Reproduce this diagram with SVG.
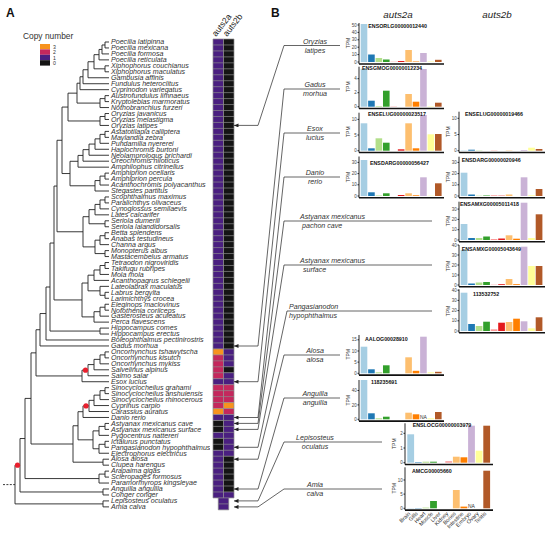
<svg xmlns="http://www.w3.org/2000/svg" width="550" height="536" viewBox="0 0 550 536">
<defs>
<style>
text{font-family:"Liberation Sans",Arial,sans-serif}
.sp{font-size:7.1px;font-style:italic;fill:#333}
.lb{font-size:7.1px;font-style:italic;fill:#333;text-anchor:middle}
.lbs{font-size:7.1px;font-style:italic;fill:#333}
.tr{fill:none;stroke:#222;stroke-width:0.9}
.P{fill:#4a1f80}.K{fill:#141414}.R{fill:#c4285d}.O{fill:#f7931e}
.grid{fill:none;stroke:#8c8c8c;stroke-width:0.7}
.ll{fill:none;stroke:#555;stroke-width:0.9}
.cn{fill:none;stroke:#222;stroke-width:0.7}
.c0{fill:#a6cee3}.c1{fill:#1f78b4}.c2{fill:#b2df8a}.c3{fill:#33a02c}.c4{fill:#fb9a99}.c5{fill:#e31a1c}.c6{fill:#fdbf6f}.c7{fill:#ff7f00}.c8{fill:#cab2d6}.c9{fill:#ffff99}.c10{fill:#b15928}
.ax{fill:none;stroke:#111;stroke-width:0.9}
.bx{fill:none;stroke:#111;stroke-width:1.6}
.tl{font-size:4.5px;fill:#444;text-anchor:end}
.tpm{font-size:5px;fill:#333;text-anchor:middle}
.id{font-size:5.3px;font-weight:bold;fill:#111}
.na{font-size:5px;fill:#333}
.xl{font-size:5.5px;fill:#333;text-anchor:end}
</style>
<marker id="ah" markerWidth="5" markerHeight="4" refX="4.5" refY="2" orient="auto" markerUnits="userSpaceOnUse"><path d="M0,0 L4.5,2 L0,4 z" fill="#222"/></marker>
</defs>
<rect width="550" height="536" fill="#fff"/>
<text x="6" y="17" font-size="12" font-weight="bold" fill="#111">A</text>
<text x="271" y="17" font-size="12" font-weight="bold" fill="#111">B</text>

<g id="legend">
<text x="23" y="38.5" font-size="8.4" fill="#333">Copy number</text>
<rect x="40" y="44" width="10" height="5.4" class="O"/>
<rect x="40" y="49.4" width="10" height="5.4" class="R"/>
<rect x="40" y="54.8" width="10" height="5.4" class="P"/>
<rect x="40" y="60.2" width="10" height="5.4" class="K"/>
<text x="53" y="48.7" font-size="5.2" fill="#333">3</text>
<text x="53" y="54.1" font-size="5.2" fill="#333">2</text>
<text x="53" y="59.5" font-size="5.2" fill="#333">1</text>
<text x="53" y="64.9" font-size="5.2" fill="#333">0</text>
</g>

<g id="tree">
<g transform="translate(0,36.04) scale(1,5.96)">
<path class="tr" vector-effect="non-scaling-stroke" d="M109 1H105V2H109M105 1.5H102V3H109M102 2.25H99V4H109M109 5H105V6H109M99 3.125H94V5.5H105M94 4.3125H88V7H109M88 5.656H83V8H109M83 6.828H80V9H109M109 10H105V11H109M105 10.5H100V12H109M80 7.914H77V11.25H100M109 13H105V14H109M105 13.5H100V15H109M77 9.582H68V14.25H100M109 16H105V17H109M105 16.5H100V18H109M100 17.25H95V19H109M95 18.125H89V20H109M89 19.06H83V21H109M83 20.03H78V22H109M109 23H105V24H109M105 23.5H100V25H109M100 24.25H95V26H109M78 21.016H70V25.125H95M68 11.916H62V23.07H70M109 27H105V28H109M105 27.5H100V29H109M100 28.25H95V30H109M109 31H105V32H109M95 29.125H89V31.5H105M109 33H105V34H109M105 33.5H100V35H109M109 36H105V37H109M100 34.25H95V36.5H105M89 30.31H83V35.375H95M62 17.49H57V32.84H83M109 38H105V39H109M105 38.5H100V40H109M100 39.25H94V41H109M109 43H105V44H109M109 42H100V43.5H105M94 40.125H88V42.75H100M109 45H105V46H109M105 45.5H100V47H109M100 46.25H94V48H109M88 41.44H82V47.125H94M57 25.17H54V44.28H82M109 49H100V50H109M54 34.73H50V49.5H100M50 42.11H46V51H109M46 46.56H40V52H109M109 53H105V54H109M105 53.5H100V55H109M100 54.25H94V56H109M94 55.125H88V57H109M88 56.06H82V58H109M40 49.28H36V57.03H82M109 59H105V60H109M105 59.5H100V61H109M100 60.25H94V62H109M94 61.125H89V63H109M89 62.06H83V64H109M109 65H105V66H109M105 65.5H99V67H109M109 68H105V69H109M105 68.5H99V70H109M99 66.25H93V69.25H99M83 63.03H78V67.75H93M109 71H103V72H109M78 65.39H73V71.5H103M36 53.16H31V68.45H73M109 73H105V74H109M105 73.5H99V75H109M31 60.8H25V74.25H99M109 76H103V77H109M25 67.53H20V76.5H103M109 78H103V79H109M20 72.01H15V78.5H103"/>
</g>
<path d="M3 484.6H15" fill="none" stroke="#222" stroke-width="0.9" stroke-dasharray="2 1.4"/>
<circle cx="17.5" cy="465.2" r="2.6" fill="#e8202e"/>
<circle cx="85.5" cy="370.2" r="2.6" fill="#e8202e"/>
<circle cx="86" cy="405.9" r="2.6" fill="#e8202e"/>
</g>

<g id="species">
<text class="sp" x="111" y="44.3"><tspan x="111">Poecilia latipinna</tspan><tspan x="111" dy="5.96">Poecilia mexicana</tspan><tspan x="111" dy="5.96">Poecilia formosa</tspan><tspan x="111" dy="5.96">Poecilia reticulata</tspan><tspan x="111" dy="5.96">Xiphophorus couchianus</tspan><tspan x="111" dy="5.96">Xiphophorus maculatus</tspan><tspan x="111" dy="5.96">Gambusia affinis</tspan><tspan x="111" dy="5.96">Fundulus heteroclitus</tspan><tspan x="111" dy="5.96">Cyprinodon variegatus</tspan><tspan x="111" dy="5.96">Austrofundulus limnaeus</tspan><tspan x="111" dy="5.96">Kryptolebias marmoratus</tspan><tspan x="111" dy="5.96">Nothobranchius furzeri</tspan><tspan x="111" dy="5.96">Oryzias javanicus</tspan><tspan x="111" dy="5.96">Oryzias melastigma</tspan><tspan x="111" dy="5.96">Oryzias latipes</tspan><tspan x="111" dy="5.96">Astatotilapia calliptera</tspan><tspan x="111" dy="5.96">Maylandia zebra</tspan><tspan x="111" dy="5.96">Pundamilia nyererei</tspan><tspan x="111" dy="5.96">Haplochromis burtoni</tspan><tspan x="111" dy="5.96">Neolamprologus brichardi</tspan><tspan x="111" dy="5.96">Oreochromis niloticus</tspan><tspan x="111" dy="5.96">Amphilophus citrinellus</tspan><tspan x="111" dy="5.96">Amphiprion ocellaris</tspan><tspan x="111" dy="5.96">Amphiprion percula</tspan><tspan x="111" dy="5.96">Acanthochromis polyacanthus</tspan><tspan x="111" dy="5.96">Stegastes partitus</tspan><tspan x="111" dy="5.96">Scophthalmus maximus</tspan><tspan x="111" dy="5.96">Paralichthys olivaceus</tspan><tspan x="111" dy="5.96">Cynoglossus semilaevis</tspan><tspan x="111" dy="5.96">Lates calcarifer</tspan><tspan x="111" dy="5.96">Seriola dumerili</tspan><tspan x="111" dy="5.96">Seriola lalandidorsalis</tspan><tspan x="111" dy="5.96">Betta splendens</tspan><tspan x="111" dy="5.96">Anabas testudineus</tspan><tspan x="111" dy="5.96">Channa argus</tspan><tspan x="111" dy="5.96">Monopterus albus</tspan><tspan x="111" dy="5.96">Mastacembelus armatus</tspan><tspan x="111" dy="5.96">Tetraodon nigroviridis</tspan><tspan x="111" dy="5.96">Takifugu rubripes</tspan><tspan x="111" dy="5.96">Mola mola</tspan><tspan x="111" dy="5.96">Acanthopagrus schlegelii</tspan><tspan x="111" dy="5.96">Lateolabrax maculatus</tspan><tspan x="111" dy="5.96">Labrus bergylta</tspan><tspan x="111" dy="5.96">Larimichthys crocea</tspan><tspan x="111" dy="5.96">Eleginops maclovinus</tspan><tspan x="111" dy="5.96">Notothenia coriiceps</tspan><tspan x="111" dy="5.96">Gasterosteus aculeatus</tspan><tspan x="111" dy="5.96">Perca flavescens</tspan><tspan x="111" dy="5.96">Hippocampus comes</tspan><tspan x="111" dy="5.96">Hippocampus erectus</tspan><tspan x="111" dy="5.96">Boleophthalmus pectinirostris</tspan><tspan x="111" dy="5.96">Gadus morhua</tspan><tspan x="111" dy="5.96">Oncorhynchus tshawytscha</tspan><tspan x="111" dy="5.96">Oncorhynchus kisutch</tspan><tspan x="111" dy="5.96">Oncorhynchus mykiss</tspan><tspan x="111" dy="5.96">Salvelinus alpinus</tspan><tspan x="111" dy="5.96">Salmo salar</tspan><tspan x="111" dy="5.96">Esox lucius</tspan><tspan x="111" dy="5.96">Sinocyclocheilus grahami</tspan><tspan x="111" dy="5.96">Sinocyclocheilus anshuiensis</tspan><tspan x="111" dy="5.96">Sinocyclocheilus rhinocerous</tspan><tspan x="111" dy="5.96">Cyprinus carpio</tspan><tspan x="111" dy="5.96">Carassius auratus</tspan><tspan x="111" dy="5.96">Danio rerio</tspan><tspan x="111" dy="5.96">Astyanax mexicanus cave</tspan><tspan x="111" dy="5.96">Astyanax mexicanus surface</tspan><tspan x="111" dy="5.96">Pygocentrus nattereri</tspan><tspan x="111" dy="5.96">Ictalurus punctatus</tspan><tspan x="111" dy="5.96">Pangasianodon hypophthalmus</tspan><tspan x="111" dy="5.96">Electrophorus electricus</tspan><tspan x="111" dy="5.96">Alosa alosa</tspan><tspan x="111" dy="5.96">Clupea harengus</tspan><tspan x="111" dy="5.96">Arapaima gigas</tspan><tspan x="111" dy="5.96">Scleropages formosus</tspan><tspan x="111" dy="5.96">Paramormyrops kingsleyae</tspan><tspan x="111" dy="5.96">Anguilla anguilla</tspan><tspan x="111" dy="5.96">Conger conger</tspan><tspan x="111" dy="5.96">Lepisosteus oculatus</tspan><tspan x="111" dy="5.96">Amia calva</tspan></text>
</g>

<g id="heatmap">
<rect x="210" y="38" width="28" height="472" fill="#fff"/>
<g transform="translate(0,33.04) scale(1,5.96)">
<rect x="213" y="1" width="10.5" height="52" class="P"/>
<rect x="213" y="53" width="10.5" height="1" class="O"/>
<rect x="213" y="54" width="10.5" height="4" class="R"/>
<rect x="213" y="58" width="10.5" height="1" class="P"/>
<rect x="213" y="59" width="10.5" height="4" class="R"/>
<rect x="213" y="63" width="10.5" height="1" class="O"/>
<rect x="213" y="64" width="10.5" height="1" class="P"/>
<rect x="213" y="65" width="10.5" height="2" class="K"/>
<rect x="213" y="67" width="10.5" height="1" class="P"/>
<rect x="213" y="68" width="10.5" height="2" class="K"/>
<rect x="213" y="70" width="10.5" height="8" class="P"/>
<rect x="223.5" y="1" width="10.5" height="52" class="K"/>
<rect x="223.5" y="53" width="10.5" height="3" class="P"/>
<rect x="223.5" y="56" width="10.5" height="1" class="K"/>
<rect x="223.5" y="57" width="10.5" height="2" class="P"/>
<rect x="223.5" y="59" width="10.5" height="3" class="R"/>
<rect x="223.5" y="62" width="10.5" height="1" class="O"/>
<rect x="223.5" y="63" width="10.5" height="1" class="R"/>
<rect x="223.5" y="64" width="10.5" height="7" class="P"/>
<rect x="223.5" y="71" width="10.5" height="6" class="K"/>
<rect x="223.5" y="77" width="10.5" height="1" class="P"/>
<rect x="218.25" y="78" width="10.5" height="2" class="P"/>
<path class="grid" vector-effect="non-scaling-stroke" d="M213 1H234M213 2H234M213 3H234M213 4H234M213 5H234M213 6H234M213 7H234M213 8H234M213 9H234M213 10H234M213 11H234M213 12H234M213 13H234M213 14H234M213 15H234M213 16H234M213 17H234M213 18H234M213 19H234M213 20H234M213 21H234M213 22H234M213 23H234M213 24H234M213 25H234M213 26H234M213 27H234M213 28H234M213 29H234M213 30H234M213 31H234M213 32H234M213 33H234M213 34H234M213 35H234M213 36H234M213 37H234M213 38H234M213 39H234M213 40H234M213 41H234M213 42H234M213 43H234M213 44H234M213 45H234M213 46H234M213 47H234M213 48H234M213 49H234M213 50H234M213 51H234M213 52H234M213 53H234M213 54H234M213 55H234M213 56H234M213 57H234M213 58H234M213 59H234M213 60H234M213 61H234M213 62H234M213 63H234M213 64H234M213 65H234M213 66H234M213 67H234M213 68H234M213 69H234M213 70H234M213 71H234M213 72H234M213 73H234M213 74H234M213 75H234M213 76H234M213 77H234M213 78H234M218.25 79H228.75M218.25 80H228.75M213 1V78M223.5 1V78M234 1V78M218.25 78V80M228.75 78V80"/>
</g>
<text transform="translate(216,37) rotate(-52)" font-size="8.6" fill="#222">auts2a</text>
<text transform="translate(227,37) rotate(-52)" font-size="8.6" fill="#222">auts2b</text>
</g>

<g id="connectors">
<path class="ll" d="M284 45.5H340M284 89H340M284 133H340M284 177H340M284 221H432M284 265H432M287 311H432M284 355H340M284 398H340M284 442H382M284 489H382"/>
<path class="cn" marker-end="url(#ah)" d="M284 45.5L258 125.4H234"/>
<path class="cn" marker-end="url(#ah)" d="M284 89L258 346H234"/>
<path class="cn" marker-end="url(#ah)" d="M284 133L258 381.7H234"/>
<path class="cn" marker-end="url(#ah)" d="M284 177L258 417.5H234"/>
<path class="cn" marker-end="url(#ah)" d="M284 221L258 423.4H234"/>
<path class="cn" marker-end="url(#ah)" d="M284 265L258 429.4H234"/>
<path class="cn" marker-end="url(#ah)" d="M287 311L258 447.3H234"/>
<path class="cn" marker-end="url(#ah)" d="M284 355L258 459.2H234"/>
<path class="cn" marker-end="url(#ah)" d="M284 398L258 489H234"/>
<path class="cn" marker-end="url(#ah)" d="M284 442L258 500.9H234"/>
<path class="cn" marker-end="url(#ah)" d="M284 489L258 506.9H234"/>
</g>

<g id="b-labels">
<text class="lb" x="315" y="43.7">Oryzias</text><text class="lb" x="315" y="52.5">latipes</text>
<text class="lb" x="315" y="87.2">Gadus</text><text class="lb" x="315" y="96">morhua</text>
<text class="lb" x="315" y="131.2">Esox</text><text class="lb" x="315" y="140">lucius</text>
<text class="lb" x="315" y="175.2">Danio</text><text class="lb" x="315" y="184">rerio</text>
<text class="lbs" x="300" y="219.2">Astyanax mexicanus</text><text class="lbs" x="302" y="228">pachon cave</text>
<text class="lbs" x="300" y="263.2">Astyanax mexicanus</text><text class="lbs" x="303" y="272">surface</text>
<text class="lbs" x="289" y="309.2">Pangasianodon</text><text class="lbs" x="289" y="318">hypophthalmus</text>
<text class="lb" x="315" y="353.2">Alosa</text><text class="lb" x="315" y="362">alosa</text>
<text class="lb" x="315" y="396.2">Anguilla</text><text class="lb" x="315" y="405">anguilla</text>
<text class="lb" x="315" y="440.2">Lepisosteus</text><text class="lb" x="315" y="449">oculatus</text>
<text class="lb" x="315" y="487.2">Amia</text><text class="lb" x="315" y="496">calva</text>
<text x="398" y="18" font-size="9.8" font-style="italic" fill="#222" text-anchor="middle">auts2a</text>
<text x="497" y="18" font-size="9.8" font-style="italic" fill="#222" text-anchor="middle">auts2b</text>
</g>

<g id="a-oryzias" transform="translate(359,62)">
<rect class="c0" x="1.7" y="-38" width="6.6" height="38"/><rect class="c1" x="9.13" y="-7.5" width="6.6" height="7.5"/><rect class="c2" x="16.56" y="-4" width="6.6" height="4"/><rect class="c3" x="23.99" y="-2.5" width="6.6" height="2.5"/><rect class="c4" x="31.42" y="-0.3" width="6.6" height="0.3"/><rect class="c5" x="38.85" y="-1" width="6.6" height="1"/><rect class="c6" x="46.28" y="-12" width="6.6" height="12"/><rect class="c7" x="53.71" y="-0.5" width="6.6" height="0.5"/><rect class="c8" x="61.14" y="-9" width="6.6" height="9"/><rect class="c9" x="68.57" y="-0.5" width="6.6" height="0.5"/><rect class="c10" x="76" y="-2.2" width="6.6" height="2.2"/>
<path class="ax" d="M0 -39V2M-1.5 0H0M-1.5 -7.4H0M-1.5 -14.8H0M-1.5 -22.2H0M-1.5 -29.6H0M-1.5 -37H0"/><path class="bx" d="M0 2H85"/>
<text class="tl" x="-2.3" y="1.6">0</text><text class="tl" x="-2.3" y="-5.8">10</text><text class="tl" x="-2.3" y="-13.2">20</text><text class="tl" x="-2.3" y="-20.6">30</text><text class="tl" x="-2.3" y="-28">40</text><text class="tl" x="-2.3" y="-35.4">50</text>
<text class="tpm" transform="translate(-8.7,-19) rotate(-90)">TPM</text>
<text class="id" x="9.3" y="-33.7">ENSORLG00000012440</text>
</g>

<g id="a-gadus" transform="translate(359,106.7)">
<rect class="c0" x="1.7" y="-38" width="6.6" height="38"/><rect class="c1" x="9.13" y="-6" width="6.6" height="6"/><rect class="c2" x="16.56" y="-0.6" width="6.6" height="0.6"/><rect class="c3" x="23.99" y="-16" width="6.6" height="16"/><rect class="c4" x="31.42" y="-0.3" width="6.6" height="0.3"/><rect class="c6" x="46.28" y="-12.7" width="6.6" height="12.7"/><rect class="c7" x="53.71" y="-5" width="6.6" height="5"/><rect class="c8" x="61.14" y="-37.7" width="6.6" height="37.7"/><rect class="c9" x="68.57" y="-0.4" width="6.6" height="0.4"/><rect class="c10" x="76" y="-4" width="6.6" height="4"/>
<path class="ax" d="M0 -40V1.8M-1.5 0H0M-1.5 -14H0M-1.5 -28H0"/><path class="bx" d="M0 1.8H85"/>
<text class="tl" x="-2.3" y="1.6">0</text><text class="tl" x="-2.3" y="-12.4">2</text><text class="tl" x="-2.3" y="-26.4">4</text>
<text class="tpm" transform="translate(-8.7,-20) rotate(-90)">TPM</text>
<text class="id" x="3" y="-36.7">ENSGMOG00000012234</text>
</g>

<g id="a-esox" transform="translate(359,150.7)">
<rect class="c0" x="1.7" y="-27.4" width="6.6" height="27.4"/><rect class="c1" x="9.13" y="-2.4" width="6.6" height="2.4"/><rect class="c2" x="16.56" y="-12.4" width="6.6" height="12.4"/><rect class="c3" x="23.99" y="-8" width="6.6" height="8"/><rect class="c5" x="38.85" y="-1.4" width="6.6" height="1.4"/><rect class="c6" x="46.28" y="-27.4" width="6.6" height="27.4"/><rect class="c7" x="53.71" y="-2.4" width="6.6" height="2.4"/><rect class="c8" x="61.14" y="-35.7" width="6.6" height="35.7"/><rect class="c9" x="68.57" y="-16.4" width="6.6" height="16.4"/><rect class="c10" x="76" y="-16.7" width="6.6" height="16.7"/>
<path class="ax" d="M0 -38V1.8M-1.5 0H0M-1.5 -15.7H0M-1.5 -31.3H0"/><path class="bx" d="M0 1.8H85"/>
<text class="tl" x="-2.3" y="1.6">0</text><text class="tl" x="-2.3" y="-14.1">5</text><text class="tl" x="-2.3" y="-29.7">10</text>
<text class="tpm" transform="translate(-8.7,-19) rotate(-90)">TPM</text>
<text class="id" x="9" y="-34.7">ENSELUG00000023517</text>
</g>

<g id="a-danio" transform="translate(359,196)">
<rect class="c0" x="1.7" y="-36" width="6.6" height="36"/><rect class="c1" x="9.13" y="-3.7" width="6.6" height="3.7"/><rect class="c2" x="16.56" y="-0.5" width="6.6" height="0.5"/><rect class="c3" x="23.99" y="-2.7" width="6.6" height="2.7"/><rect class="c5" x="38.85" y="-1" width="6.6" height="1"/><rect class="c6" x="46.28" y="-2.7" width="6.6" height="2.7"/><rect class="c7" x="53.71" y="-0.7" width="6.6" height="0.7"/><rect class="c8" x="61.14" y="-18.7" width="6.6" height="18.7"/><rect class="c9" x="68.57" y="-0.3" width="6.6" height="0.3"/><rect class="c10" x="76" y="-12.7" width="6.6" height="12.7"/>
<path class="ax" d="M0 -39.5V1.8M-1.5 0H0M-1.5 -11.2H0M-1.5 -22.4H0M-1.5 -33.6H0"/><path class="bx" d="M0 1.8H85"/>
<text class="tl" x="-2.3" y="1.6">0</text><text class="tl" x="-2.3" y="-9.6">10</text><text class="tl" x="-2.3" y="-20.8">20</text><text class="tl" x="-2.3" y="-32">30</text>
<text class="tpm" transform="translate(-8.7,-19) rotate(-90)">TPM</text>
<text class="id" x="11" y="-31.5">ENSDARG00000056427</text>
</g>

<g id="a-alosa" transform="translate(359,373.3)">
<rect class="c0" x="1.7" y="-26.6" width="6.6" height="26.6"/><rect class="c1" x="9.13" y="-4" width="6.6" height="4"/><rect class="c2" x="16.56" y="-1" width="6.6" height="1"/><rect class="c3" x="23.99" y="-8" width="6.6" height="8"/><rect class="c6" x="46.28" y="-16" width="6.6" height="16"/><rect class="c7" x="53.71" y="-2.5" width="6.6" height="2.5"/><rect class="c8" x="61.14" y="-36.6" width="6.6" height="36.6"/><rect class="c9" x="68.57" y="-1" width="6.6" height="1"/><rect class="c10" x="76" y="-1.5" width="6.6" height="1.5"/>
<path class="ax" d="M0 -38.3V1.8M-1.5 0H0M-1.5 -11.2H0M-1.5 -22.3H0M-1.5 -33.5H0"/><path class="bx" d="M0 1.8H85"/>
<text class="tl" x="-2.3" y="1.6">0</text><text class="tl" x="-2.3" y="-9.6">5</text><text class="tl" x="-2.3" y="-20.7">10</text><text class="tl" x="-2.3" y="-31.9">15</text>
<text class="tpm" transform="translate(-8.7,-19) rotate(-90)">TPM</text>
<text class="id" x="6" y="-32.3">AALOG00028910</text>
</g>

<g id="a-anguilla" transform="translate(359,419.3)">
<rect class="c0" x="1.7" y="-39.3" width="6.6" height="39.3"/><rect class="c1" x="9.13" y="-6" width="6.6" height="6"/><rect class="c2" x="16.56" y="-1" width="6.6" height="1"/><rect class="c3" x="23.99" y="-2.6" width="6.6" height="2.6"/><rect class="c6" x="46.28" y="-6.6" width="6.6" height="6.6"/><rect class="c7" x="53.71" y="-5" width="6.6" height="5"/><rect class="c9" x="68.57" y="-1" width="6.6" height="1"/><rect class="c10" x="76" y="-7.3" width="6.6" height="7.3"/>
<text class="na" x="61" y="-0.4">NA</text>
<path class="ax" d="M0 -39.3V1.8M-1.5 0H0M-1.5 -14.4H0M-1.5 -28.8H0"/><path class="bx" d="M0 1.8H85"/>
<text class="tl" x="-2.3" y="1.6">0</text><text class="tl" x="-2.3" y="-12.8">20</text><text class="tl" x="-2.3" y="-27.2">40</text>
<text class="tpm" transform="translate(-8.7,-19) rotate(-90)">TPM</text>
<text class="id" x="12" y="-35.3">118235691</text>
</g>

<g id="b-esox" transform="translate(459,150.7)">
<rect class="c0" x="1.7" y="-0.3" width="6.7" height="0.3"/><rect class="c1" x="9.2" y="-1" width="6.7" height="1"/><rect class="c2" x="16.7" y="-0.3" width="6.7" height="0.3"/><rect class="c4" x="31.7" y="-0.3" width="6.7" height="0.3"/><rect class="c6" x="46.7" y="-0.3" width="6.7" height="0.3"/><rect class="c8" x="61.7" y="-0.7" width="6.7" height="0.7"/><rect class="c9" x="69.2" y="-3" width="6.7" height="3"/><rect class="c10" x="76.7" y="-1.7" width="6.7" height="1.7"/>
<path class="ax" d="M0 -39V1.8M-1.5 0H0M-1.5 -16.2H0M-1.5 -32.4H0"/><path class="bx" d="M0 1.8H86"/>
<text class="tl" x="-2.3" y="1.6">0</text><text class="tl" x="-2.3" y="-14.6">5</text><text class="tl" x="-2.3" y="-30.8">10</text>
<text class="tpm" transform="translate(-8.7,-19) rotate(-90)">TPM</text>
<text class="id" x="6" y="-34.7">ENSELUG00000019466</text>
</g>

<g id="b-danio" transform="translate(459,196)">
<rect class="c0" x="1.7" y="-23.3" width="6.7" height="23.3"/><rect class="c1" x="9.2" y="-1.5" width="6.7" height="1.5"/><rect class="c2" x="16.7" y="-0.3" width="6.7" height="0.3"/><rect class="c3" x="24.2" y="-0.5" width="6.7" height="0.5"/><rect class="c4" x="31.7" y="-0.7" width="6.7" height="0.7"/><rect class="c5" x="39.2" y="-0.3" width="6.7" height="0.3"/><rect class="c6" x="46.7" y="-1.5" width="6.7" height="1.5"/><rect class="c8" x="61.7" y="-18.7" width="6.7" height="18.7"/><rect class="c9" x="69.2" y="-0.7" width="6.7" height="0.7"/><rect class="c10" x="76.7" y="-7" width="6.7" height="7"/>
<path class="ax" d="M0 -39.3V1.8M-1.5 0H0M-1.5 -11.2H0M-1.5 -22.4H0M-1.5 -33.6H0"/><path class="bx" d="M0 1.8H86"/>
<text class="tl" x="-2.3" y="1.6">0</text><text class="tl" x="-2.3" y="-9.6">10</text><text class="tl" x="-2.3" y="-20.8">20</text><text class="tl" x="-2.3" y="-32">30</text>
<text class="tpm" transform="translate(-8.7,-19) rotate(-90)">TPM</text>
<text class="id" x="2.7" y="-34">ENSDARG00000020946</text>
</g>

<g id="b-cave" transform="translate(459,240)">
<rect class="c0" x="1.7" y="-16" width="6.7" height="16"/><rect class="c1" x="9.2" y="-2" width="6.7" height="2"/><rect class="c2" x="16.7" y="-2" width="6.7" height="2"/><rect class="c3" x="24.2" y="-3.5" width="6.7" height="3.5"/><rect class="c4" x="31.7" y="-1" width="6.7" height="1"/><rect class="c5" x="39.2" y="-1.5" width="6.7" height="1.5"/><rect class="c6" x="46.7" y="-4.7" width="6.7" height="4.7"/><rect class="c7" x="54.2" y="-1.3" width="6.7" height="1.3"/><rect class="c8" x="61.7" y="-37.3" width="6.7" height="37.3"/><rect class="c9" x="69.2" y="-2" width="6.7" height="2"/><rect class="c10" x="76.7" y="-25.7" width="6.7" height="25.7"/>
<path class="ax" d="M0 -38.3V1.8M-1.5 0H0M-1.5 -10.3H0M-1.5 -20.6H0M-1.5 -30.9H0"/><path class="bx" d="M0 1.8H86"/>
<text class="tl" x="-2.3" y="1.6">0</text><text class="tl" x="-2.3" y="-8.7">10</text><text class="tl" x="-2.3" y="-19">20</text><text class="tl" x="-2.3" y="-29.3">30</text>
<text class="tpm" transform="translate(-8.7,-19) rotate(-90)">TPM</text>
<text class="id" x="1" y="-34.5">ENSAMXG00005011418</text>
</g>

<g id="b-surface" transform="translate(459,285)">
<rect class="c0" x="1.7" y="-35" width="6.7" height="35"/><rect class="c1" x="9.2" y="-1.5" width="6.7" height="1.5"/><rect class="c2" x="16.7" y="-2.5" width="6.7" height="2.5"/><rect class="c3" x="24.2" y="-3" width="6.7" height="3"/><rect class="c4" x="31.7" y="-0.3" width="6.7" height="0.3"/><rect class="c5" x="39.2" y="-0.8" width="6.7" height="0.8"/><rect class="c6" x="46.7" y="-6" width="6.7" height="6"/><rect class="c7" x="54.2" y="-0.8" width="6.7" height="0.8"/><rect class="c8" x="61.7" y="-38.3" width="6.7" height="38.3"/><rect class="c9" x="69.2" y="-19" width="6.7" height="19"/><rect class="c10" x="76.7" y="-19" width="6.7" height="19"/>
<path class="ax" d="M0 -40V1.8M-1.5 0H0M-1.5 -10H0M-1.5 -20H0M-1.5 -30H0M-1.5 -40H0"/><path class="bx" d="M0 1.8H86"/>
<text class="tl" x="-2.3" y="1.6">0</text><text class="tl" x="-2.3" y="-8.4">10</text><text class="tl" x="-2.3" y="-18.4">20</text><text class="tl" x="-2.3" y="-28.4">30</text><text class="tl" x="-2.3" y="-38.4">40</text>
<text class="tpm" transform="translate(-8.7,-19) rotate(-90)">TPM</text>
<text class="id" x="2.7" y="-34.5">ENSAMXG00005043649</text>
</g>

<g id="b-pangasianodon" transform="translate(459,331)">
<rect class="c0" x="1.7" y="-38.3" width="6.7" height="38.3"/><rect class="c1" x="9.2" y="-7" width="6.7" height="7"/><rect class="c2" x="16.7" y="-5" width="6.7" height="5"/><rect class="c3" x="24.2" y="-9.3" width="6.7" height="9.3"/><rect class="c4" x="31.7" y="-1.7" width="6.7" height="1.7"/><rect class="c5" x="39.2" y="-8.3" width="6.7" height="8.3"/><rect class="c6" x="46.7" y="-9" width="6.7" height="9"/><rect class="c7" x="54.2" y="-12.3" width="6.7" height="12.3"/><rect class="c8" x="61.7" y="-9.7" width="6.7" height="9.7"/><rect class="c9" x="69.2" y="-2.7" width="6.7" height="2.7"/><rect class="c10" x="76.7" y="-13.7" width="6.7" height="13.7"/>
<path class="ax" d="M0 -41.7V1.8M-1.5 0H0M-1.5 -10.2H0M-1.5 -20.4H0M-1.5 -30.6H0M-1.5 -40.8H0"/><path class="bx" d="M0 1.8H86"/>
<text class="tl" x="-2.3" y="1.6">0</text><text class="tl" x="-2.3" y="-8.6">10</text><text class="tl" x="-2.3" y="-18.8">20</text><text class="tl" x="-2.3" y="-29">30</text><text class="tl" x="-2.3" y="-39.2">40</text>
<text class="tpm" transform="translate(-8.7,-20) rotate(-90)">TPM</text>
<text class="id" x="14" y="-35.5">113532752</text>
</g>

<g id="lepisosteus" transform="translate(405,462.7)">
<rect class="c0" x="2.3" y="-28.4" width="6.8" height="28.4"/><rect class="c1" x="9.9" y="-0.5" width="6.8" height="0.5"/><rect class="c2" x="17.5" y="-1" width="6.8" height="1"/><rect class="c3" x="25.1" y="-1" width="6.8" height="1"/><rect class="c4" x="40.3" y="-1.5" width="6.8" height="1.5"/><rect class="c6" x="47.9" y="-6" width="6.8" height="6"/><rect class="c7" x="55.5" y="-5.4" width="6.8" height="5.4"/><rect class="c8" x="63.1" y="-37" width="6.8" height="37"/><rect class="c9" x="70.7" y="-12" width="6.8" height="12"/><rect class="c10" x="78.3" y="-37" width="6.8" height="37"/>
<path class="ax" d="M0 -39.4V1.8M-1.5 0H0M-1.5 -14.7H0M-1.5 -29.4H0"/><path class="bx" d="M0 1.8H88"/>
<text class="tl" x="-2.3" y="1.6">0</text><text class="tl" x="-2.3" y="-13.1">1</text><text class="tl" x="-2.3" y="-27.8">2</text>
<text class="tpm" transform="translate(-8.7,-19) rotate(-90)">TPM</text>
<text class="id" x="7.7" y="-35.7">ENSLOCG00000003979</text>
</g>

<g id="amia" transform="translate(405,508.3)">
<rect class="c0" x="2.3" y="-0.3" width="6.8" height="0.3"/><rect class="c1" x="9.9" y="-0.3" width="6.8" height="0.3"/><rect class="c2" x="17.5" y="-0.7" width="6.8" height="0.7"/><rect class="c3" x="25.1" y="-7.3" width="6.8" height="7.3"/><rect class="c6" x="47.9" y="-18.3" width="6.8" height="18.3"/><rect class="c7" x="55.5" y="-1.7" width="6.8" height="1.7"/><rect class="c10" x="78.3" y="-37.6" width="6.8" height="37.6"/>
<text class="na" x="63" y="-0.4">NA</text>
<path class="ax" d="M0 -41V1.8M-1.5 0H0M-1.5 -14.2H0M-1.5 -28.3H0"/><path class="bx" d="M0 1.8H88"/>
<text class="tl" x="-2.3" y="1.6">0</text><text class="tl" x="-2.3" y="-12.6">5</text><text class="tl" x="-2.3" y="-26.7">10</text>
<text class="tpm" transform="translate(-8.7,-20) rotate(-90)">TPM</text>
<text class="id" x="7" y="-35.3">AMCG00005660</text>
</g>

<g id="x-labels">
<text class="xl" transform="translate(410.7,514) rotate(-45)">Brain</text>
<text class="xl" transform="translate(418.3,514) rotate(-45)">Gills</text>
<text class="xl" transform="translate(425.9,514) rotate(-45)">Heart</text>
<text class="xl" transform="translate(433.5,514) rotate(-45)">Muscle</text>
<text class="xl" transform="translate(441.1,514) rotate(-45)">Liver</text>
<text class="xl" transform="translate(448.7,514) rotate(-45)">Kidney</text>
<text class="xl" transform="translate(456.3,514) rotate(-45)">Bones</text>
<text class="xl" transform="translate(463.9,514) rotate(-45)">Intestine</text>
<text class="xl" transform="translate(471.5,514) rotate(-45)">Embryo</text>
<text class="xl" transform="translate(479.1,514) rotate(-45)">Ovary</text>
<text class="xl" transform="translate(486.7,514) rotate(-45)">Testis</text>
</g>
</svg>
